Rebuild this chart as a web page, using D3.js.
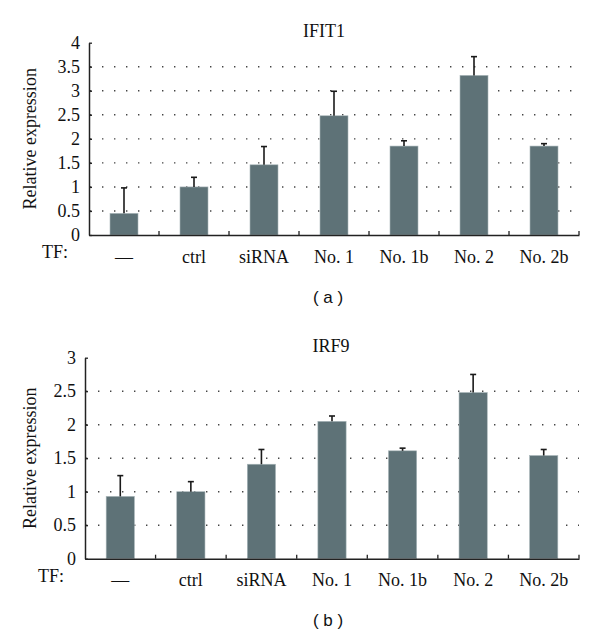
<!DOCTYPE html>
<html>
<head>
<meta charset="utf-8">
<script src="https://cdn.jsdelivr.net/npm/d3@7/dist/d3.min.js"></script>
<style>
  html, body { margin: 0; padding: 0; background: #fff; }
  svg text.serif { font-family: "Liberation Serif", "Times New Roman", serif !important; fill: #111; }
  svg text.sans { font-family: "Liberation Sans", Arial, sans-serif !important; fill: #111; }
</style>
</head>
<body>
<svg id="chart" width="600" height="639"></svg>
<script>
const categories = ["—", "ctrl", "siRNA", "No. 1", "No. 1b", "No. 2", "No. 2b"];
const ifit1Values = [0.45, 1.0, 1.46, 2.48, 1.85, 3.32, 1.85];
const ifit1Errors = [0.53, 0.2, 0.38, 0.51, 0.11, 0.39, 0.05];
const irf9Values = [0.93, 1.0, 1.41, 2.05, 1.61, 2.48, 1.54];
const irf9Errors = [0.31, 0.15, 0.22, 0.08, 0.04, 0.27, 0.09];
const ifit1Ticks = [0, 0.5, 1, 1.5, 2, 2.5, 3, 3.5, 4];
const irf9Ticks = [0, 0.5, 1, 1.5, 2, 2.5, 3];

const panels = [
  { title: "IFIT1", values: ifit1Values, errors: ifit1Errors, ticks: ifit1Ticks, max: 4,
    left: 89, right: 579, top: 42.7, bottom: 235, titleX: 324, titleY: 37, caption: "( a )", captionY: 303 },
  { title: "IRF9", values: irf9Values, errors: irf9Errors, ticks: irf9Ticks, max: 3,
    left: 85, right: 579, top: 357.7, bottom: 558.7, titleX: 331, titleY: 352, caption: "( b )", captionY: 626 }
];

const svg = d3.select("#chart");
const barColor = "#5e7277";

panels.forEach(p => {
  const g = svg.append("g");
  const x = d3.scaleBand().domain(categories).range([p.left, p.right]).paddingInner(0.6).paddingOuter(0.3);
  const xb = d3.scaleBand().domain(categories).range([p.left, p.right]);
  const y = d3.scaleLinear().domain([0, p.max]).range([p.bottom, p.top]);

  // dotted gridlines
  g.selectAll("line.grid").data(p.ticks.filter(t => t > 0 && t < p.max)).join("line")
    .attr("x1", p.left + 1).attr("x2", p.right)
    .attr("y1", d => y(d)).attr("y2", d => y(d))
    .attr("stroke", "#444").attr("stroke-width", 1.4)
    .attr("stroke-dasharray", "1.4,10.6");

  // bars
  const data = categories.map((c, i) => ({ c, v: p.values[i], e: p.errors[i] }));
  g.selectAll("rect.bar").data(data).join("rect")
    .attr("x", d => x(d.c)).attr("width", x.bandwidth())
    .attr("y", d => y(d.v)).attr("height", d => y(0) - y(d.v))
    .attr("fill", barColor).attr("stroke", "#a9b6b9").attr("stroke-width", 0.6);

  // error bars
  const eg = g.selectAll("g.err").data(data).join("g");
  eg.append("line")
    .attr("x1", d => x(d.c) + x.bandwidth() / 2).attr("x2", d => x(d.c) + x.bandwidth() / 2)
    .attr("y1", d => y(d.v)).attr("y2", d => y(d.v + d.e))
    .attr("stroke", "#1a1a1a").attr("stroke-width", 1.6);
  eg.append("line")
    .attr("x1", d => x(d.c) + x.bandwidth() / 2 - 3).attr("x2", d => x(d.c) + x.bandwidth() / 2 + 3)
    .attr("y1", d => y(d.v + d.e)).attr("y2", d => y(d.v + d.e))
    .attr("stroke", "#1a1a1a").attr("stroke-width", 1.6);

  // y axis
  const yAxis = d3.axisLeft(y).tickValues(p.ticks).tickSizeInner(-3).tickSizeOuter(0)
    .tickPadding(9).tickFormat(d => d3.format("")(d));
  const ya = g.append("g").attr("transform", `translate(${p.left},0)`).call(yAxis);
  ya.select(".domain").attr("stroke", "#222").attr("stroke-width", 1.5);
  ya.selectAll(".tick line").attr("stroke", "#222").attr("stroke-width", 1.3);
  ya.selectAll(".tick text").attr("class", "serif").style("font-size", "18px");

  // x axis
  const xAxis = d3.axisBottom(xb).tickSize(0).tickPadding(15);
  const xa = g.append("g").attr("transform", `translate(0,${p.bottom})`).call(xAxis);
  xa.select(".domain").attr("stroke", "#222").attr("stroke-width", 1.5);
  xa.selectAll(".tick text").attr("class", "serif").style("font-size", "18px");
  // inward separator ticks at band edges
  g.selectAll("line.sep").data(categories).join("line")
    .attr("x1", d => xb(d) + xb.bandwidth())
    .attr("x2", d => xb(d) + xb.bandwidth())
    .attr("y1", p.bottom).attr("y2", p.bottom - 4)
    .attr("stroke", "#222").attr("stroke-width", 1.3);

  // TF label
  g.append("text").attr("class", "serif").attr("x", p.left - 47).attr("y", p.bottom + 23)
    .style("font-size", "18px").text("TF:");

  // y label
  g.append("text").attr("class", "serif")
    .attr("transform", `translate(30,${(p.top + p.bottom) / 2}) rotate(-90)`)
    .attr("text-anchor", "middle").attr("dominant-baseline", "central")
    .style("font-size", "18px").text("Relative expression");

  // title
  g.append("text").attr("class", "serif").attr("x", p.titleX).attr("y", p.titleY).attr("text-anchor", "middle")
    .style("font-size", "18px").text(p.title);

  // caption
  g.append("text").attr("class", "sans").attr("x", 328).attr("y", p.captionY).attr("text-anchor", "middle")
    .style("font-size", "17px").text(p.caption);
});
</script>
</body>
</html>
